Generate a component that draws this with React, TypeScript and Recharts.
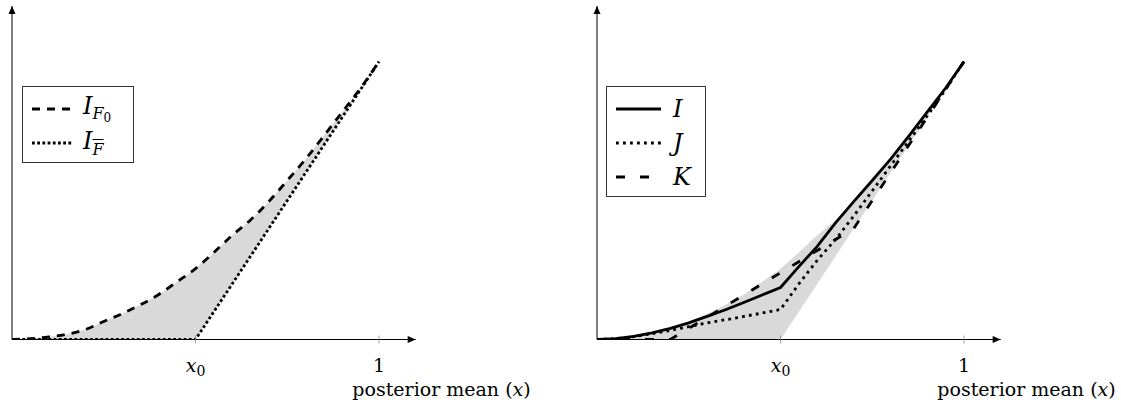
import React from 'react';
import { ComposedChart, Line, Area, XAxis, YAxis, ReferenceDot, Legend } from 'recharts';

// posterior mean grid shared by both panels
const X_POS = [0, 0.05, 0.1, 0.15, 0.2, 0.25, 0.3, 0.35, 0.4, 0.45, 0.5, 0.55, 0.6, 0.65, 0.7, 0.75, 0.8, 0.85, 0.9, 0.95, 1];

// left panel
const I_F0 = [0, 0.003, 0.009, 0.019, 0.036, 0.065, 0.093, 0.125, 0.162, 0.208, 0.255, 0.313, 0.375, 0.43, 0.497, 0.572, 0.649, 0.733, 0.819, 0.905, 1];
const I_FBAR = [0, 0, 0, 0, 0, 0, 0, 0, 0, 0, 0, 0.1, 0.2, 0.3, 0.4, 0.5, 0.6, 0.7, 0.8, 0.9, 1];

// right panel
const I_VAL = [0, 0.003, 0.011, 0.024, 0.04, 0.06, 0.083, 0.107, 0.133, 0.16, 0.187, 0.262, 0.335, 0.42, 0.497, 0.572, 0.649, 0.733, 0.819, 0.905, 1];
const J_VAL = [0, 0.003, 0.01, 0.021, 0.033, 0.046, 0.06, 0.071, 0.083, 0.095, 0.108, 0.2, 0.285, 0.36, 0.445, 0.535, 0.625, 0.715, 0.805, 0.9, 1];
const K_VAL = [0, 0, 0, 0, 0, 0.04, 0.08, 0.12, 0.16, 0.2, 0.24, 0.28, 0.32, 0.36, 0.4, 0.5, 0.6, 0.7, 0.8, 0.9, 1];

const X0 = 0.5;
const X_TICKS = [X0, 1];
const AXIS_TITLE = 'posterior mean';
const X_MAX = 1.1;
const Y_MAX = 1.2;

const SERIF = '"DejaVu Serif", "Liberation Serif", serif';
const LW = 2.8;

const leftData = X_POS.map((x, i) => ({ x, f0: I_F0[i], fbar: I_FBAR[i], band: [I_FBAR[i], I_F0[i]] }));
const rightData = X_POS.map((x, i) => ({ x, band: [I_FBAR[i], I_F0[i]], i: I_VAL[i], j: J_VAL[i], k: K_VAL[i] }));

const XTick = (props: any) => {
  const { x, y, payload } = props;
  return (
    <g>
      <line x1={x} x2={x} y1={y - 4} y2={y + 4} stroke="#8c8c8c" strokeWidth={0.8} />
      <text x={x} y={y + 32} textAnchor="middle" fontFamily={SERIF} fontSize={19} fill="#000">
        {payload.value === X0 ? (
          <>
            <tspan fontStyle="italic">x</tspan>
            <tspan fontSize={14} dy={4}>0</tspan>
          </>
        ) : (
          String(payload.value)
        )}
      </text>
    </g>
  );
};

const AxisTitle = (props: any) => {
  const vb = props.viewBox || {};
  const xEnd = (vb.x ?? 12) + (vb.width ?? 404) + 115;
  const y = (vb.y ?? 339.5) + 56;
  return (
    <text x={xEnd} y={y} textAnchor="end" fontFamily={SERIF} fontSize={19} fill="#000">
      {AXIS_TITLE} (<tspan fontStyle="italic">x</tspan>)
    </text>
  );
};

const ArrowRight = (p: any) => (
  <path d={`M${p.cx},${p.cy} L${p.cx - 8},${p.cy - 3.5} L${p.cx - 8},${p.cy + 3.5} Z`} fill="#000" />
);
const ArrowUp = (p: any) => (
  <path d={`M${p.cx},${p.cy} L${p.cx - 3.5},${p.cy + 8} L${p.cx + 3.5},${p.cy + 8} Z`} fill="#000" />
);

type LegendRow = { dash?: string; label: React.ReactNode };

const leftRows: LegendRow[] = [
  {
    dash: '8 7',
    label: (
      <span>
        <i>I</i>
        <sub style={{ fontSize: 16, verticalAlign: -5 }}>
          <i>F</i>
          <sub style={{ fontSize: 12, verticalAlign: -3 }}>0</sub>
        </sub>
      </span>
    ),
  },
  {
    dash: '2.8 2.4',
    label: (
      <span>
        <i>I</i>
        <sub style={{ fontSize: 16, verticalAlign: -6 }}>
          <i style={{ textDecoration: 'overline' }}>F</i>
        </sub>
      </span>
    ),
  },
];

const rightRows: LegendRow[] = [
  { label: <i>I</i> },
  { dash: '2.8 4.2', label: <i>J</i> },
  { dash: '9 15', label: <i>K</i> },
];

function makeLegend(rows: LegendRow[], sampleW: number, gap: number) {
  return () => (
    <div
      style={{
        width: '100%',
        height: '100%',
        boxSizing: 'border-box',
        border: '1px solid #333',
        background: '#fff',
        paddingTop: 5,
        fontFamily: SERIF,
        fontSize: 24,
        color: '#000',
      }}
    >
      {rows.map((r, idx) => (
        <div key={idx} style={{ height: 34, display: 'flex', alignItems: 'center', paddingLeft: 9 }}>
          <svg width={sampleW} height={8} style={{ flex: 'none' }}>
            <line x1={0} x2={sampleW} y1={4} y2={4} stroke="#000" strokeWidth={LW} strokeDasharray={r.dash} />
          </svg>
          <span style={{ marginLeft: gap, lineHeight: 1 }}>{r.label}</span>
        </div>
      ))}
    </div>
  );
}

export default function App() {
  const h = 406;
  const common = {
    height: h,
    margin: { top: 6, left: 2, bottom: 36.5 },
  };
  return (
    <div style={{ position: 'absolute', left: 0, top: 0, width: 1121, height: 406, background: '#fff' }}>
      <div style={{ position: 'absolute', left: 0, top: 0 }}>
        <ComposedChart width={560} data={leftData} {...common} margin={{ ...common.margin, right: 144.3 }}>
          <XAxis
            type="number"
            dataKey="x"
            domain={[0, X_MAX]}
            allowDataOverflow
            ticks={X_TICKS}
            interval={0}
            tick={<XTick />}
            tickLine={false}
            tickSize={0}
            tickMargin={0}
            height={30}
            axisLine={{ stroke: '#000', strokeWidth: 1 }}
            label={<AxisTitle />}
          />
          <YAxis type="number" domain={[0, Y_MAX]} allowDataOverflow width={10} tick={false} tickLine={false} axisLine={{ stroke: '#000', strokeWidth: 1 }} />
          <Area dataKey="band" type="linear" fill="#d9d9d9" fillOpacity={1} stroke="none" isAnimationActive={false} legendType="none" activeDot={false} />
          <Line dataKey="fbar" type="linear" stroke="#000" strokeWidth={LW} strokeDasharray="2.8 2.4" dot={false} activeDot={false} isAnimationActive={false} />
          <Line dataKey="f0" type="monotone" stroke="#000" strokeWidth={LW} strokeDasharray="8 7" dot={false} activeDot={false} isAnimationActive={false} />
          <ReferenceDot x={X_MAX} y={0} r={0} ifOverflow="visible" shape={ArrowRight} />
          <ReferenceDot x={0} y={Y_MAX} r={0} ifOverflow="visible" shape={ArrowUp} />
          <Legend
            layout="horizontal"
            align="center"
            verticalAlign="middle"
            content={makeLegend(leftRows, 40, 11)}
            wrapperStyle={{ position: 'absolute', left: 22, top: 86, width: 112, height: 77 }}
          />
        </ComposedChart>
      </div>
      <div style={{ position: 'absolute', left: 585, top: 0 }}>
        <ComposedChart width={536} data={rightData} {...common} margin={{ ...common.margin, right: 120.3 }}>
          <XAxis
            type="number"
            dataKey="x"
            domain={[0, X_MAX]}
            allowDataOverflow
            ticks={X_TICKS}
            interval={0}
            tick={<XTick />}
            tickLine={false}
            tickSize={0}
            tickMargin={0}
            height={30}
            axisLine={{ stroke: '#000', strokeWidth: 1 }}
            label={<AxisTitle />}
          />
          <YAxis type="number" domain={[0, Y_MAX]} allowDataOverflow width={10} tick={false} tickLine={false} axisLine={{ stroke: '#000', strokeWidth: 1 }} />
          <Area dataKey="band" type="linear" fill="#d9d9d9" fillOpacity={1} stroke="none" isAnimationActive={false} legendType="none" activeDot={false} />
          <Line dataKey="k" type="linear" stroke="#000" strokeWidth={LW} strokeDasharray="9 15" dot={false} activeDot={false} isAnimationActive={false} />
          <Line dataKey="j" type="linear" stroke="#000" strokeWidth={LW} strokeDasharray="2.8 4.2" dot={false} activeDot={false} isAnimationActive={false} />
          <Line dataKey="i" type="linear" stroke="#000" strokeWidth={LW} dot={false} activeDot={false} isAnimationActive={false} />
          <ReferenceDot x={X_MAX} y={0} r={0} ifOverflow="visible" shape={ArrowRight} />
          <ReferenceDot x={0} y={Y_MAX} r={0} ifOverflow="visible" shape={ArrowUp} />
          <Legend
            layout="horizontal"
            align="center"
            verticalAlign="middle"
            content={makeLegend(rightRows, 45, 12)}
            wrapperStyle={{ position: 'absolute', left: 21, top: 86, width: 100, height: 111 }}
          />
        </ComposedChart>
      </div>
    </div>
  );
}
